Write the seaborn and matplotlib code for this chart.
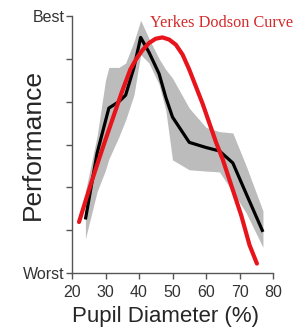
import numpy as np
import pandas as pd
import matplotlib
matplotlib.use('Agg')
import matplotlib.pyplot as plt
import seaborn as sns

# ─── Data ──────────────────────────────────────────────────────
pupil = [24, 27.5, 30, 31, 34, 36, 38.5, 40.5, 43, 46, 48, 50, 55, 60, 64, 68, 72, 77]
perf_mean = [1.25, 2.8, 3.55, 3.85, 4.0, 4.15, 4.8, 5.5, 5.15, 4.65, 4.1, 3.64,
             3.05, 2.93, 2.85, 2.57, 1.85, 0.96]
perf_upper = [1.9, 3.2, 4.5, 4.8, 4.8, 4.9, 5.4, 5.9, 5.47, 5.0, 4.75, 4.55,
              3.85, 3.4, 3.3, 3.27, 2.5, 1.45]
perf_lower = [0.8, 1.9, 2.4, 2.66, 3.18, 3.57, 4.16, 5.1, 4.9, 4.4, 3.8, 2.64,
              2.41, 2.38, 2.36, 1.9, 1.4, 0.6]

yd_x = [22.1, 24.5, 27, 29.5, 32.3, 35, 37.4, 39.2, 41, 43, 45, 47, 49, 51,
        53, 55, 57, 59, 61, 63, 65, 68, 70.5, 73, 75.2]
yd_y = [1.19, 1.8, 2.41, 3.0, 3.64, 4.25, 4.75, 5.0, 5.2, 5.37, 5.47, 5.5, 5.45,
        5.33, 5.1, 4.75, 4.35, 3.95, 3.5, 3.05, 2.65, 1.94, 1.35, 0.65, 0.22]

x_ticks = [20, 30, 40, 50, 60, 70, 80]
y_ticks = [0, 1, 2, 3, 4, 5, 6]
y_tick_labels = ['Worst', '', '', '', '', '', 'Best']

df = pd.DataFrame({'pupil': pupil, 'perf': perf_mean})
yd = pd.DataFrame({'pupil': yd_x, 'perf': yd_y})

# ─── Style ─────────────────────────────────────────────────────
sns.set_style('ticks')
plt.rcParams['font.family'] = ['Liberation Sans', 'DejaVu Sans']

fig = plt.figure(figsize=(2.97, 3.31), dpi=100)
ax = fig.add_axes([72 / 297, 1 - 273 / 331, 201 / 297, 257 / 331])

# ─── Plot ──────────────────────────────────────────────────────
ax.fill_between(pupil, perf_lower, perf_upper, color='#bcbcbc', lw=0)
sns.lineplot(data=df, x='pupil', y='perf', ax=ax, color='black', lw=2.3,
             solid_joinstyle='round', solid_capstyle='butt')
sns.lineplot(data=yd, x='pupil', y='perf', ax=ax, color='#e8141b', lw=3.0,
             solid_joinstyle='round', solid_capstyle='round')

ax.set_xlim(20, 80)
ax.set_ylim(0, 6)
ax.set_xticks(x_ticks)
ax.set_yticks(y_ticks)
ax.set_yticklabels(y_tick_labels)
sns.despine(ax=ax)
for s in ['left', 'bottom']:
    ax.spines[s].set_color('#555555')
    ax.spines[s].set_linewidth(1.0)
ax.tick_params(axis='both', direction='out', length=4, width=1.0,
               color='#555555', labelsize=11.5, labelcolor='#333333')
ax.tick_params(axis='x', pad=4.5)
ax.tick_params(axis='y', pad=1.5)

ax.set_xlabel('Pupil Diameter (%)', fontsize=16, labelpad=5)
ax.xaxis.set_label_coords(0.465, -0.13)
ax.xaxis.label.set_va('top')
ax.set_ylabel('Performance', fontsize=19, labelpad=-16)

fig.text(150 / 297, 1 - 27 / 331, 'Yerkes Dodson Curve', color='#d42a2a',
         fontsize=11.7, family=['Liberation Serif', 'DejaVu Serif'],
         va='baseline', ha='left')

fig.savefig('out.png', dpi=100)
